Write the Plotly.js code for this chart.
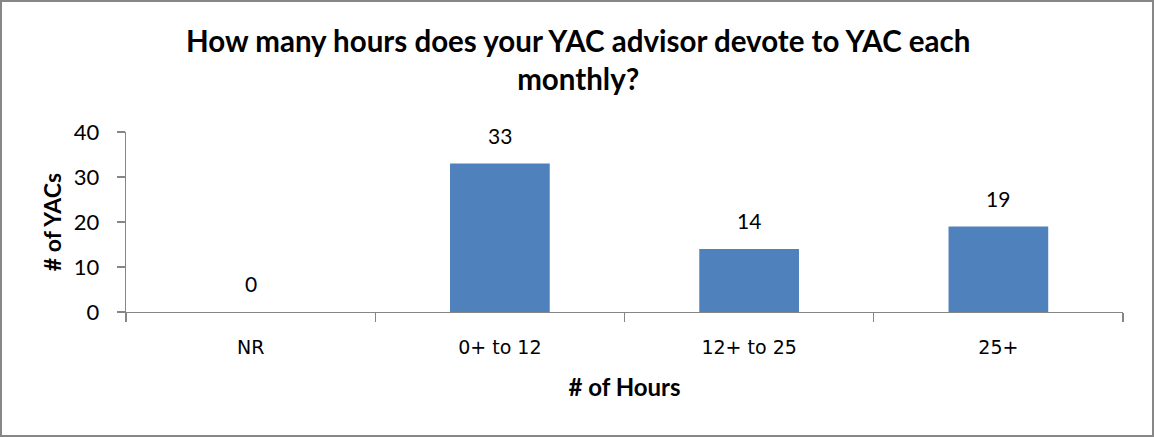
<!DOCTYPE html>
<html><head><meta charset="utf-8">
<script src="https://cdn.plot.ly/plotly-3.0.1.min.js"></script>
<style>html,body{margin:0;padding:0;background:#fff}#chart{width:1154px;height:437px}</style>
</head><body><div id="chart"></div>
<script>
const categories = ["NR", "0+ to 12", "12+ to 25", "25+"];
const values = [0, 33, 14, 19];
const yTicks = [0, 10, 20, 30, 40];
const titleText = "How many hours does your YAC advisor devote to YAC each<br>monthly?";

const FONT = "Lato, 'Open Sans', sans-serif";
const trace = {
  type: "bar",
  x: categories,
  y: values,
  width: 0.4,
  marker: {color: "#4F81BD", line: {width: 0}},
  hoverinfo: "none"
};

const labelAnnotations = categories.map((c, i) => ({
  x: c, y: values[i], xref: "x", yref: "y",
  text: String(values[i]), showarrow: false,
  yanchor: "bottom", yshift: 14,
  font: {family: FONT, size: 21, color: "#000"}
}));

const layout = {
  width: 1154, height: 437,
  margin: {l: 126, r: 31, t: 132, b: 125},
  paper_bgcolor: "#fff", plot_bgcolor: "#fff",
  showlegend: false,
  xaxis: {
    type: "category",
    tickson: "boundaries",
    ticks: "outside", ticklen: 9, tickcolor: "#868686", tickwidth: 1.3,
    showline: true, linecolor: "#868686", linewidth: 1.3,
    showgrid: false, zeroline: false,
    ticklabelstandoff: 18,
    tickfont: {family: "'DejaVu Sans', sans-serif", size: 19, color: "#000"},
    title: {text: "<b># of Hours</b>", font: {family: FONT, size: 24, color: "#000"}, standoff: 22}
  },
  yaxis: {
    range: [0, 40],
    tickvals: yTicks,
    ticks: "outside", ticklen: 8, tickcolor: "#868686", tickwidth: 1.3,
    showline: true, linecolor: "#868686", linewidth: 1.3,
    showgrid: false, zeroline: false,
    ticklabelstandoff: 13,
    tickfont: {family: FONT, size: 22, color: "#000"},
    title: {text: "<b># of YACs</b>", font: {family: FONT, size: 23, color: "#000"}, standoff: 5}
  },
  annotations: [{
    xref: "paper", yref: "paper", x: (578 - 126) / 997, y: 1 + (132 - 59) / 180,
    xanchor: "center", yanchor: "middle", showarrow: false,
    text: "<b>" + titleText + "</b>",
    font: {family: FONT, size: 29.5, color: "#000"}
  }].concat(labelAnnotations),
  shapes: [{
    type: "rect", xref: "paper", yref: "paper",
    x0: -125/997, x1: 1 + 30/997,
    y0: -124/180, y1: 1 + 131/180,
    line: {color: "#878787", width: 2}, fillcolor: "rgba(0,0,0,0)", layer: "above"
  }]
};

Plotly.newPlot("chart", [trace], layout, {displayModeBar: false, staticPlot: true});
</script></body></html>
